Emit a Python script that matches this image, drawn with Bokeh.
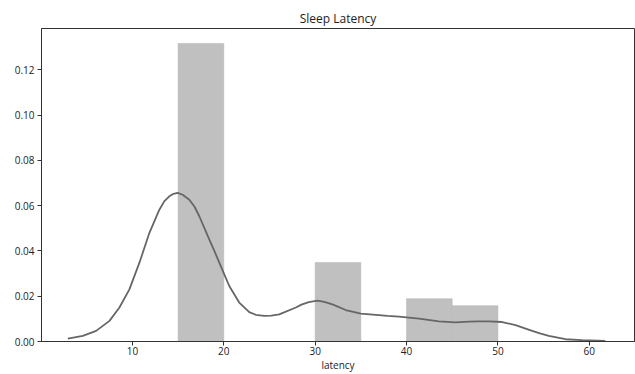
from bokeh.plotting import figure
from bokeh.models import Range1d, FixedTicker, NumeralTickFormatter
from bokeh.embed import file_html
from bokeh.resources import INLINE

# histogram bins (latency) and density heights
bin_left = [15, 30, 40, 45]
bin_right = [20, 35, 45, 50]
density = [0.1316, 0.0349, 0.0189, 0.0158]

# KDE curve
kde_x = [2.93, 4.57, 6.03, 7.49, 8.58, 9.67, 10.77, 11.86, 12.95, 13.5, 14.04,
         14.5, 14.95, 15.5, 16.23, 16.8, 17.32, 18.42, 19.0, 19.51, 20.1, 20.6,
         21.69, 22.79, 23.5, 24.43, 25.2, 26.07, 27.89, 28.5, 29.3, 30.25, 31.0,
         31.89, 33.35, 34.99, 36.99, 37.9, 39.18, 41.37, 43.55, 45.37, 46.83,
         47.9, 49.02, 50.47, 51.93, 52.8, 53.75, 54.6, 55.57, 57.4, 59.2, 61.75]
kde_y = [0.0013, 0.0025, 0.0047, 0.0091, 0.0150, 0.0230, 0.0348, 0.0480, 0.0582,
         0.0620, 0.0641, 0.0652, 0.0656, 0.0648, 0.0626, 0.0595, 0.0553, 0.0450,
         0.0397, 0.0348, 0.0292, 0.0245, 0.0172, 0.0130, 0.0118, 0.0113, 0.0114,
         0.0120, 0.0150, 0.0163, 0.0174, 0.0180, 0.0175, 0.0164, 0.0139, 0.0123,
         0.0116, 0.0113, 0.0110, 0.0101, 0.0089, 0.0084, 0.0088, 0.0089, 0.0089,
         0.0086, 0.0072, 0.0060, 0.0047, 0.0036, 0.0025, 0.0010, 0.0006, 0.0003]

x_ticks = [10, 20, 30, 40, 50, 60]
y_ticks = [0.0, 0.02, 0.04, 0.06, 0.08, 0.10, 0.12]

FONT = "Open Sans"

p = figure(width=635, height=374, output_backend="svg", toolbar_location=None,
           x_range=Range1d(0.05, 64.95), y_range=Range1d(0, 0.1382),
           title="Sleep Latency", x_axis_label="latency",
           min_border_left=41, min_border_right=1, min_border_top=28, min_border_bottom=30)

p.quad(left=bin_left, right=bin_right, bottom=0, top=density,
       fill_color="#c0c0c0", line_color="#b5b5b5", line_width=0.5)
p.line(kde_x, kde_y, line_color="#666666", line_width=1.8, line_join="round")

p.title.align = "center"
p.title.text_font = FONT
p.title.text_font_size = "12px"
p.title.text_font_style = "normal"
p.title.text_color = "#222222"
p.title.standoff = 4

p.xgrid.visible = False
p.ygrid.visible = False
p.outline_line_color = "#333333"
p.outline_line_width = 1

for ax in (p.xaxis[0], p.yaxis[0]):
    ax.major_label_text_font = FONT
    ax.major_label_text_font_size = "10px"
    ax.major_label_text_color = "#222222"
    ax.axis_line_color = "#333333"
    ax.major_tick_line_color = "#333333"
    ax.major_tick_in = 0
    ax.major_tick_out = 4
    ax.minor_tick_line_color = None
    ax.major_label_standoff = 3

p.xaxis.major_label_standoff = 1
p.xaxis.ticker = FixedTicker(ticks=x_ticks)
p.yaxis.ticker = FixedTicker(ticks=y_ticks)
p.yaxis.formatter = NumeralTickFormatter(format="0.00")
p.xaxis.axis_label_text_font = FONT
p.xaxis.axis_label_text_font_size = "10px"
p.xaxis.axis_label_text_font_style = "normal"
p.xaxis.axis_label_text_color = "#222222"
p.xaxis.axis_label_standoff = 0

open("out.html", "w").write(file_html(p, INLINE))
